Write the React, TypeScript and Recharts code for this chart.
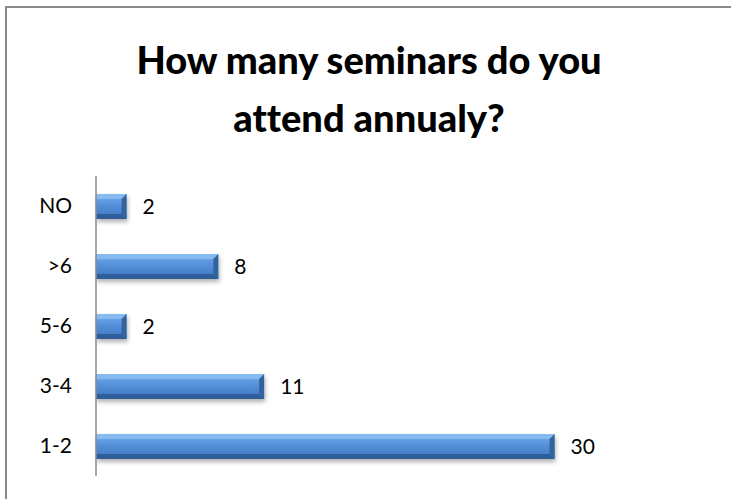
import { BarChart, Bar, XAxis, YAxis, LabelList } from 'recharts'

const categories = ['NO', '>6', '5-6', '3-4', '1-2']
const counts = [2, 8, 2, 11, 30]
const title = ['How many seminars do you', 'attend annualy?']

const data = categories.map((c, i) => ({ name: c, value: counts[i] }))

const font = 'Lato, "Open Sans", sans-serif'

function BevelBar(props: any) {
  const { x, y, width, height } = props
  if (!width || width <= 0) return null
  const b = Math.min(5, width / 2)
  return (
    <g filter="url(#barShadow)">
      <rect x={x} y={y} width={width} height={height} fill="url(#barFill)" />
      {/* top bevel */}
      <polygon
        points={`${x},${y} ${x + width},${y} ${x + width - b},${y + b} ${x},${y + b}`}
        fill="#8cc0f3"
        opacity={0.75}
      />
      {/* bottom bevel */}
      <polygon
        points={`${x},${y + height - b} ${x + width - b},${y + height - b} ${x + width},${y + height} ${x},${y + height}`}
        fill="#2c5a94"
        opacity={0.85}
      />
      {/* right end */}
      <polygon
        points={`${x + width - b},${y + b} ${x + width},${y} ${x + width},${y + height} ${x + width - b},${y + height - b}`}
        fill="#33649c"
      />
    </g>
  )
}

export default function App() {
  return (
    <div
      style={{
        position: 'absolute',
        left: 0,
        top: 0,
        width: 731,
        height: 499,
        overflow: 'hidden',
        background: '#fff',
      }}
    >
      <div
        style={{
          position: 'absolute',
          left: 5,
          top: 6,
          width: 726,
          height: 493,
          borderTop: '2px solid #8a8a8a',
          borderLeft: '2px solid #8a8a8a',
        }}
      />
      <div
        style={{
          position: 'absolute',
          left: 0,
          top: 30,
          width: 738,
          textAlign: 'center',
          fontFamily: font,
          fontWeight: 900,
          fontSize: 38,
          lineHeight: '58px',
          fontVariantLigatures: 'none',
          color: '#000',
        }}
      >
        {title.map(t => (
          <div key={t}>{t}</div>
        ))}
      </div>
      <div style={{ position: 'absolute', left: 0, top: 0 }}>
        <BarChart
          width={731}
          height={499}
          data={data}
          layout="vertical"
          margin={{ top: 176, right: 100, left: 0, bottom: 23 }}
          barSize={25}
        >
          <defs>
            <linearGradient id="barFill" x1="0" y1="0" x2="0" y2="1">
              <stop offset="0%" stopColor="#79b2ee" />
              <stop offset="35%" stopColor="#5a96df" />
              <stop offset="75%" stopColor="#4780cb" />
              <stop offset="100%" stopColor="#3a6bad" />
            </linearGradient>
            <filter id="barShadow" x="-10%" y="-30%" width="125%" height="180%">
              <feDropShadow dx="1" dy="3" stdDeviation="2" floodColor="#000" floodOpacity="0.3" />
            </filter>
          </defs>
          <XAxis type="number" domain={[0, 35]} hide />
          <YAxis
            type="category"
            dataKey="name"
            width={96}
            tickLine={false}
            axisLine={{ stroke: '#8a8a8a', strokeWidth: 1.5 }}
            tickMargin={18}
            tick={{ fontSize: 21, fill: '#000', fontFamily: font }}
          />
          <Bar dataKey="value" shape={<BevelBar />} isAnimationActive={false}>
            <LabelList
              dataKey="value"
              position="right"
              offset={16}
              style={{ fontSize: 21, fill: '#000', fontFamily: font }}
            />
          </Bar>
        </BarChart>
      </div>
    </div>
  )
}
